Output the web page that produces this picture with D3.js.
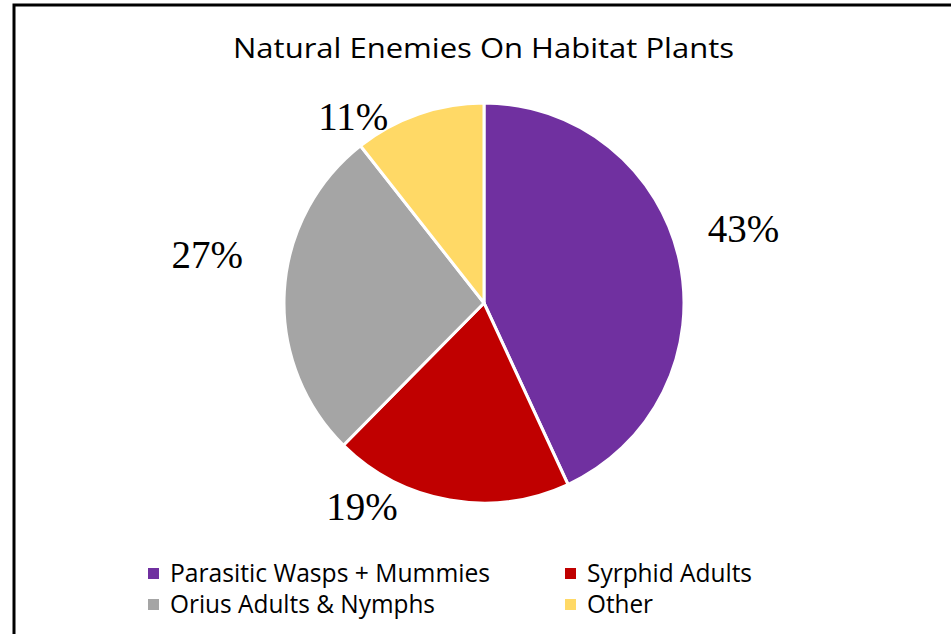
<!DOCTYPE html>
<html>
<head>
<meta charset="utf-8">
<script src="https://cdn.jsdelivr.net/npm/d3@7"></script>
<style>
  body { margin: 0; background: #fff; }
  svg { display: block; }
</style>
</head>
<body>
<svg id="chart"></svg>
<script>
// data
const categories = ["Parasitic Wasps + Mummies", "Syrphid Adults", "Orius Adults & Nymphs", "Other"];
const values = [43.1, 19.3, 27.0, 10.6];
const labels = ["43%", "19%", "27%", "11%"];
const colors = ["#7030a0", "#c00000", "#a5a5a5", "#ffd966"];

// label placement (degrees clockwise from top, distance from centre)
const labelAngle = [74, 211, 280, 325];
const labelDist = [270, 237, 281, 228];
// stretched text widths, the original picture is wider than normal
const legendWidths = [320, 165, 265, 66];

let svg = d3.select("#chart")
  .attr("width", 951)
  .attr("height", 634)

// frame
svg.append("rect")
  .attr("x", 14).attr("y", 5)
  .attr("width", 1000).attr("height", 700)
  .attr("fill", "none")
  .attr("stroke", "#000")
  .attr("stroke-width", 3)

svg.append("text")
  .attr("x", 233).attr("y", 58)
  .attr("font-family", "Open Sans, sans-serif")
  .attr("font-size", 27)
  .attr("textLength", 501)
  .attr("lengthAdjust", "spacingAndGlyphs")
  .attr("fill", "#000")
  .text("Natural Enemies On Habitat Plants")

const cx = 484, cy = 303, r = 200;

let pie = d3.pie().sort(null).value(d => d)
let arcs = pie(values)
let arc = d3.arc().innerRadius(0).outerRadius(r)

let g = svg.append("g").attr("transform", `translate(${cx},${cy})`)

g.selectAll("path")
  .data(arcs)
  .join("path")
  .attr("d", arc)
  .attr("fill", (d, i) => colors[i])
  .attr("stroke", "#fff")
  .attr("stroke-width", 3)
  .attr("stroke-linejoin", "round")

g.selectAll("text.pct")
  .data(arcs)
  .join("text")
  .attr("class", "pct")
  .attr("transform", (d, i) => {
    let a = labelAngle[i] * Math.PI / 180
    let lr = labelDist[i]
    return `translate(${Math.sin(a) * lr},${-Math.cos(a) * lr})`
  })
  .attr("text-anchor", "middle")
  .attr("dominant-baseline", "central")
  .attr("font-family", "Liberation Serif, serif")
  .attr("font-size", 39)
  .attr("fill", "#000")
  .text((d, i) => labels[i])

// legend
const legX = [148, 565], legY = [573, 604];
let leg = svg.append("g")
categories.forEach((c, i) => {
  let x = legX[i % 2], y = legY[Math.floor(i / 2)]
  leg.append("rect")
    .attr("x", x).attr("y", y - 5)
    .attr("width", 11).attr("height", 11)
    .attr("fill", colors[i])
  leg.append("text")
    .attr("x", x + 22).attr("y", y + 9)
    .attr("font-family", "Open Sans, sans-serif")
    .attr("font-size", 25)
    .attr("textLength", legendWidths[i])
    .attr("lengthAdjust", "spacingAndGlyphs")
    .attr("fill", "#000")
    .text(c)
})
</script>
</body>
</html>
